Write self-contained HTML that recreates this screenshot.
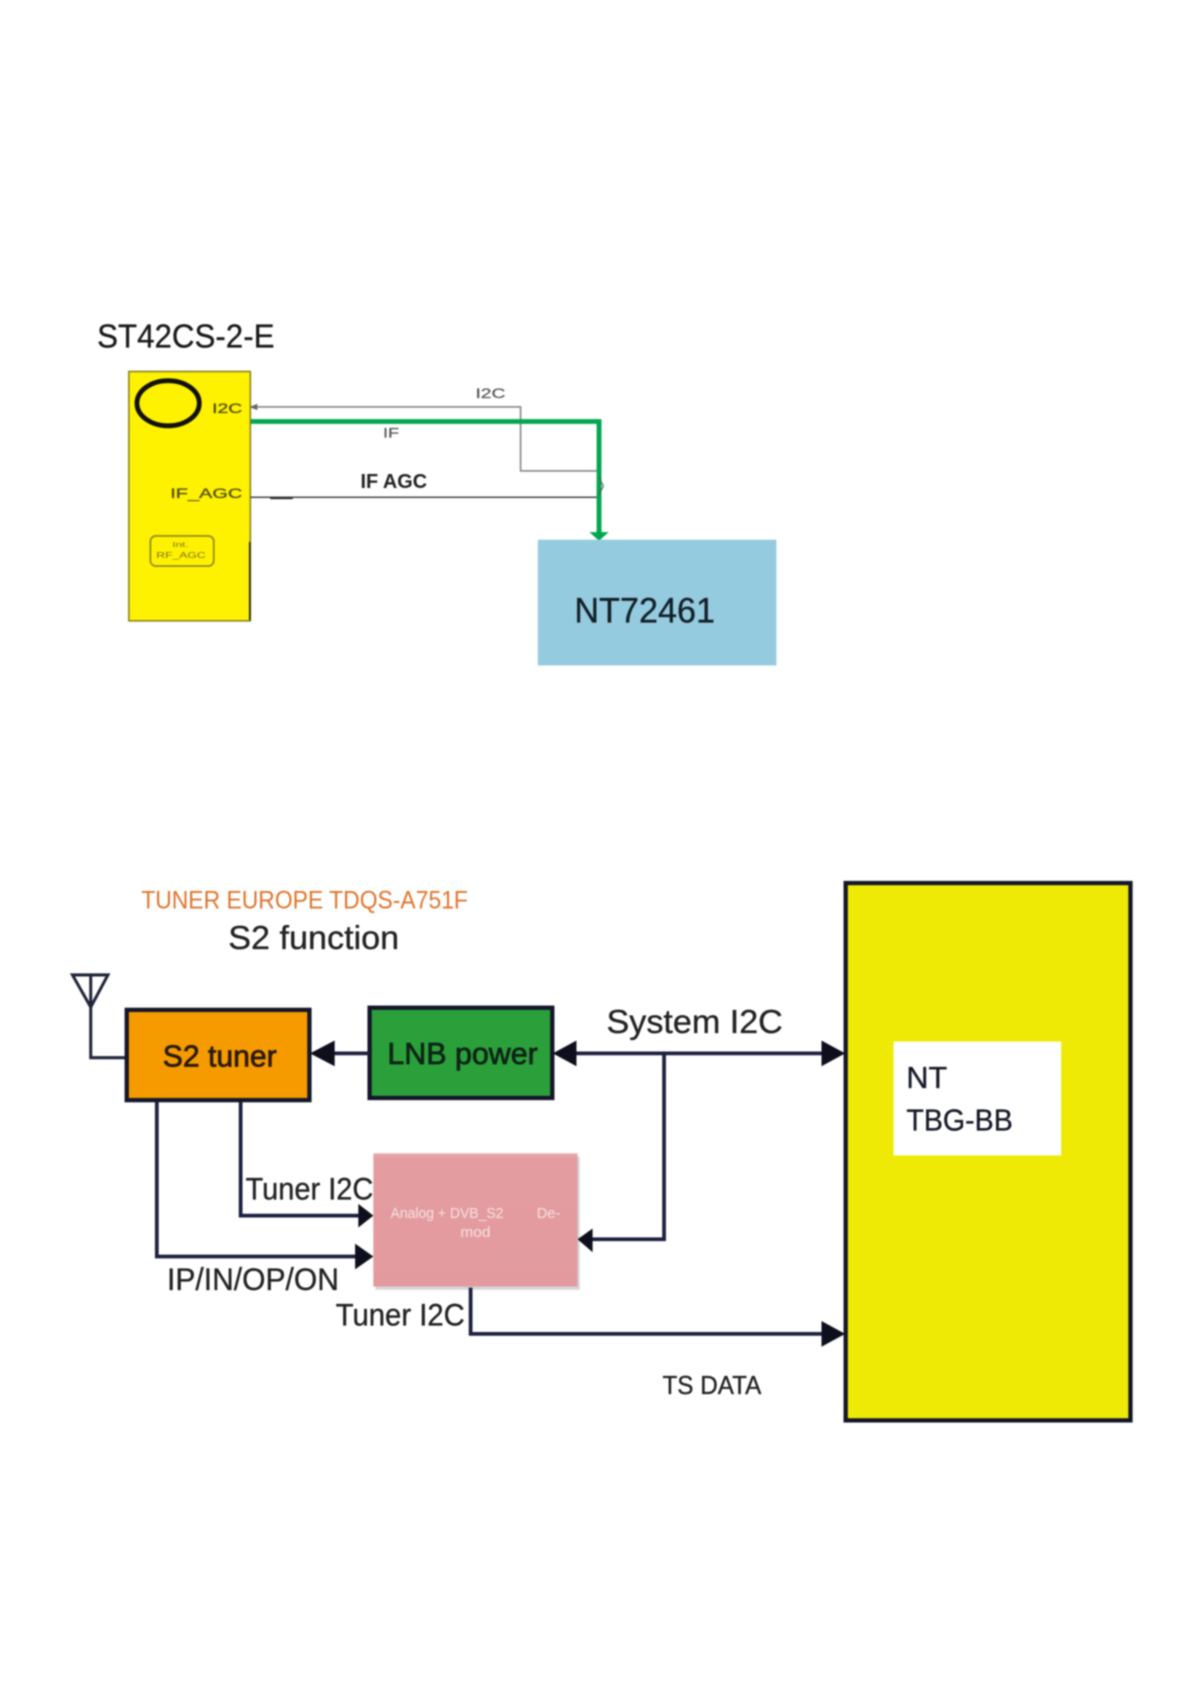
<!DOCTYPE html>
<html><head><meta charset="utf-8"><style>
html,body{margin:0;padding:0;background:#fff;width:1191px;height:1684px;overflow:hidden}
svg{display:block;filter:blur(0.7px)}
text{font-family:"Liberation Sans",sans-serif}
.d{stroke:#222;stroke-width:.3}
</style></head><body>
<svg width="1191" height="1684" viewBox="0 0 1108 1567" xmlns="http://www.w3.org/2000/svg">
<rect width="1108" height="1567" fill="#fff"/>
<defs><linearGradient id="p" x1="0" y1="0" x2="0" y2="1"><stop offset="0" stop-color="#e8a8ab"/><stop offset=".05" stop-color="#e39c9f"/><stop offset="1" stop-color="#e29a9e"/></linearGradient></defs>
<g transform="translate(-0.7,-0.8)">
<text x="91" y="324" font-size="31" fill="#1a1a1a" class="d" textLength="165" lengthAdjust="spacingAndGlyphs">ST42CS-2-E</text>
<rect x="120.500" y="346.500" width="113" height="232" fill="#fff200" stroke="#8a8420" stroke-width="1.500"/>
<path d="M233 505V578" stroke="#222" stroke-width="1.500"/>
<ellipse cx="157" cy="376" rx="29" ry="21" fill="none" stroke="#111" stroke-width="4.500"/>
<text x="198" y="385" font-size="13" fill="#55520f" stroke="#55520f" stroke-width=".3" textLength="28" lengthAdjust="spacingAndGlyphs">I2C</text>
<text x="159" y="464" font-size="13" fill="#55520f" stroke="#55520f" stroke-width=".3" textLength="67" lengthAdjust="spacingAndGlyphs">IF_AGC</text>
<rect x="140.500" y="499.500" width="59" height="28" rx="5" fill="none" stroke="#8a8420" stroke-width="1.500"/>
<text x="161" y="510" font-size="7" fill="#77731a" textLength="15" lengthAdjust="spacingAndGlyphs">Int.</text>
<text x="146" y="520" font-size="8" fill="#77731a" textLength="46" lengthAdjust="spacingAndGlyphs">RF_AGC</text>

<path d="M234 379.500H485V439H556" fill="none" stroke="#858585" stroke-width="1.500"/>
<path d="M233 379.500l7-3v6z" fill="#666"/>
<path d="M234 463.500H556" stroke="#444" stroke-width="1.500"/>
<path d="M252 464.500H273" stroke="#222" stroke-width="1.500"/>
<path d="M234 393H558V497" fill="none" stroke="#00a650" stroke-width="4.500"/>
<path d="M549 496H567L558 504Z" fill="#00a650"/>
<path d="M558 445l4 8-4 8" fill="none" stroke="#555" stroke-width="1"/>
<text x="443" y="371" font-size="13" fill="#555" stroke="#555" stroke-width=".2" textLength="28" lengthAdjust="spacingAndGlyphs">I2C</text>
<text x="357" y="408" font-size="13" fill="#555" stroke="#555" stroke-width=".2" textLength="15" lengthAdjust="spacingAndGlyphs">IF</text>
<text x="336" y="455" font-size="19" font-weight="bold" fill="#222" textLength="62" lengthAdjust="spacingAndGlyphs">IF AGC</text>
<rect x="501" y="503" width="222" height="117" fill="#95cbdf"/>
<text x="535" y="580" font-size="33" fill="#10202a" class="d" textLength="131" lengthAdjust="spacingAndGlyphs">NT72461</text>

<text x="132" y="846" font-size="23" fill="#e0752c" textLength="304" lengthAdjust="spacingAndGlyphs">TUNER EUROPE TDQS-A751F</text>
<text x="213" y="884" font-size="31" fill="#222" class="d" textLength="159" lengthAdjust="spacingAndGlyphs">S2 function</text>

<path d="M68 908H101L85 938ZM85 908V985H118" fill="none" stroke="#1f2438" stroke-width="2.800"/>
<rect x="118.500" y="940.500" width="170" height="84" fill="#f59b00" stroke="#14162a" stroke-width="4"/>
<text x="152" y="993" font-size="28" fill="#2a1a08" stroke="#2a1a08" stroke-width=".7" textLength="106" lengthAdjust="spacingAndGlyphs">S2 tuner</text>
<rect x="344.500" y="938.500" width="170" height="84" fill="#2ba03a" stroke="#14162a" stroke-width="4"/>
<text x="361" y="991" font-size="28" fill="#0d2416" stroke="#0d2416" stroke-width=".7" textLength="140" lengthAdjust="spacingAndGlyphs">LNB power</text>

<rect x="350" y="1077" width="190" height="124" fill="#bbb" opacity=".6"/>
<rect x="348" y="1074" width="190" height="124" fill="url(#p)"/>
<text x="364" y="1134" font-size="14" fill="#f6e2e2" textLength="105" lengthAdjust="spacingAndGlyphs">Analog + DVB_S2</text>
<text x="500" y="1134" font-size="14" fill="#f6e2e2" textLength="22" lengthAdjust="spacingAndGlyphs">De-</text>
<text x="429" y="1152" font-size="14" fill="#f6e2e2" textLength="28" lengthAdjust="spacingAndGlyphs">mod</text>

<rect x="787.500" y="822.500" width="265" height="500" fill="#eeea05" stroke="#14162a" stroke-width="4"/>
<rect x="832" y="970" width="156" height="106" fill="#fff"/>
<text x="844" y="1013" font-size="28" fill="#15182a" class="d" textLength="38" lengthAdjust="spacingAndGlyphs">NT</text>
<text x="844" y="1053" font-size="28" fill="#15182a" class="d" textLength="99" lengthAdjust="spacingAndGlyphs">TBG-BB</text>

<g fill="none" stroke="#1d2140" stroke-width="3.500">
<path d="M344 981H300"/>
<path d="M530 981H770"/>
<path d="M618.500 981V1154H550"/>
<path d="M224.500 1026V1132H335"/>
<path d="M146.500 1026V1170H335"/>
<path d="M438.500 1199V1242H770"/>
</g>
<g fill="#0d0f1c">
<path d="M289 981L312 969V993Z"/>
<path d="M515 981L537 969V993Z"/>
<path d="M787 981L765 969V993Z"/>
<path d="M538 1154L552 1144V1166Z"/>
<path d="M348 1132L334 1121V1143Z"/>
<path d="M348 1170L331 1158V1182Z"/>
<path d="M787 1242L765 1230V1254Z"/>
</g>
<text x="229" y="1117" font-size="29" fill="#222" class="d" textLength="119" lengthAdjust="spacingAndGlyphs">Tuner I2C</text>
<text x="156" y="1201" font-size="29" fill="#222" class="d" textLength="160" lengthAdjust="spacingAndGlyphs">IP/IN/OP/ON</text>
<text x="313" y="1234" font-size="29" fill="#222" class="d" textLength="120" lengthAdjust="spacingAndGlyphs">Tuner I2C</text>
<text x="565" y="962" font-size="31" fill="#222" class="d" textLength="164" lengthAdjust="spacingAndGlyphs">System I2C</text>
<text x="617" y="1298" font-size="24" fill="#222" class="d" textLength="92" lengthAdjust="spacingAndGlyphs">TS DATA</text>
</g>
</svg>
</body></html>
